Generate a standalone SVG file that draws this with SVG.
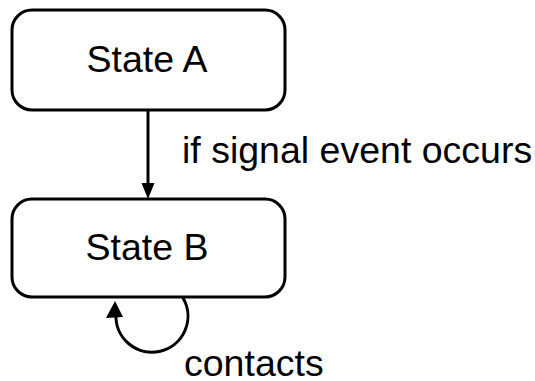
<svg xmlns="http://www.w3.org/2000/svg" width="535" height="381" viewBox="0 0 535 381">
  <style>
    .state { fill: #ffffff; stroke: #000000; stroke-width: 3; }
    .label { font-family: "Liberation Sans", Arial, sans-serif; font-size: 37.5px; fill: #000000; }
    .edge { fill: none; stroke: #000000; stroke-width: 3; }
    .head { fill: #000000; stroke: none; }
  </style>
  <rect width="535" height="381" fill="#ffffff"/>
  <g id="connectors">
    <g id="a-to-b">
      <line class="edge" x1="148" y1="110" x2="148" y2="186"/>
      <polygon class="head" points="148,199 141.5,183 154.5,183"/>
      <text class="label" x="182" y="163">if signal event occurs</text>
    </g>
    <g id="b-self">
      <path class="edge" d="M183,298 A36,36 0 1 1 116,314"/>
      <polygon class="head" points="115,301 106,318 123,317"/>
      <text class="label" x="184" y="376">contacts</text>
    </g>
  </g>
  <g id="state-a">
    <rect class="state" x="12" y="10" width="273" height="100" rx="20" ry="20"/>
    <text class="label" x="147" y="72" text-anchor="middle">State A</text>
  </g>
  <g id="state-b">
    <rect class="state" x="12" y="199" width="273" height="98" rx="20" ry="20"/>
    <text class="label" x="147" y="260" text-anchor="middle">State B</text>
  </g>
</svg>
